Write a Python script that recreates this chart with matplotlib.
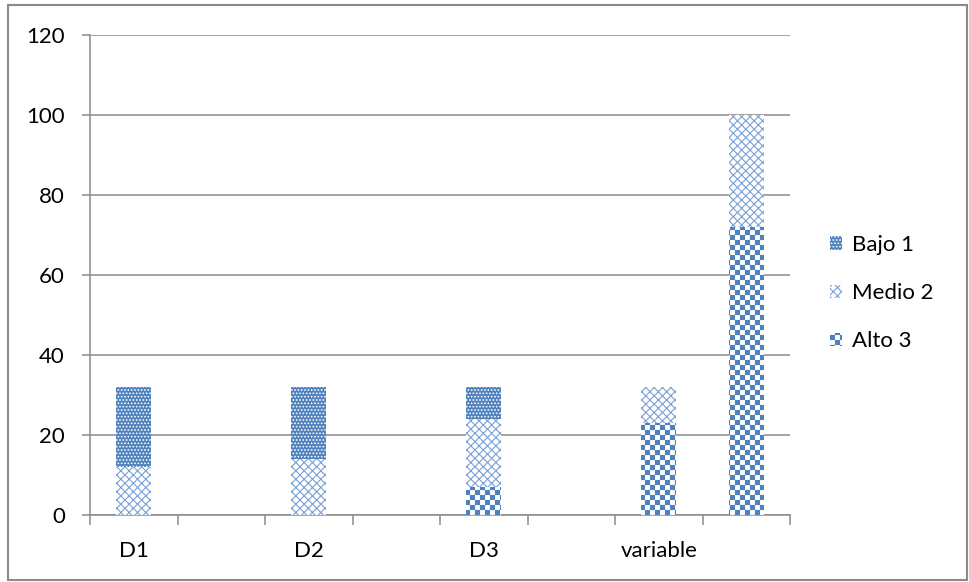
import numpy as np
import matplotlib
matplotlib.use("Agg")
import matplotlib.pyplot as plt
import matplotlib.hatch as mhatch
from matplotlib.path import Path
from matplotlib.patches import Rectangle

# Data
categories = ["D1", "", "D2", "", "D3", "", "variable", ""]
alto_3 = [0, 0, 0, 0, 7, 0, 23, 72]
medio_2 = [12, 0, 14, 0, 17, 0, 9, 28]
bajo_1 = [20, 0, 18, 0, 8, 0, 0, 0]
y_ticks = [0, 20, 40, 60, 80, 100, 120]


class CheckerHatch(mhatch.HatchPatternBase):
    """Checkerboard fill, selected with the '*' hatch character."""

    inset = 0.005

    def __init__(self, hatch, density):
        self.cells = hatch.count('*') * 5
        if self.cells % 2:
            self.cells += 1
        self.num_vertices = (self.cells * self.cells // 2) * 5

    def set_vertices_and_codes(self, vertices, codes):
        n = self.cells
        step = 1.0 / n
        d = self.inset
        k = 0
        for i in range(n):
            for j in range(n):
                if (i + j) % 2 == 0:
                    x0, y0 = i * step + d, j * step + d
                    x1, y1 = (i + 1) * step - d, (j + 1) * step - d
                    vertices[k:k + 5] = [(x0, y0), (x1, y0), (x1, y1),
                                         (x0, y1), (x0, y0)]
                    codes[k:k + 5] = [Path.MOVETO, Path.LINETO, Path.LINETO,
                                      Path.LINETO, Path.CLOSEPOLY]
                    k += 5


mhatch._hatch_types[-1] = CheckerHatch

plt.rcParams['font.family'] = ['Lato', 'DejaVu Sans']
plt.rcParams['hatch.linewidth'] = 0.8

BLUE = '#4F81BD'
LIGHT = '#7AA0D4'
GREY = '#8A8A8A'
FS = 16

fig = plt.figure(figsize=(9.69, 5.82), dpi=100)
ax = fig.add_axes([90 / 969, 67 / 582, 700 / 969, 480 / 582])

x = np.arange(len(categories))
w = 0.4
alto = np.array(alto_3, dtype=float)
medio = np.array(medio_2, dtype=float)
bajo = np.array(bajo_1, dtype=float)

b_alto = ax.bar(x, alto, w, color='white', edgecolor=BLUE, hatch='****',
                linewidth=0, label='Alto 3', zorder=3)
b_medio = ax.bar(x, medio, w, bottom=alto, color='white', edgecolor=LIGHT,
                 hatch='xxxx', linewidth=0, label='Medio 2', zorder=3)
b_bajo = ax.bar(x, bajo, w, bottom=alto + medio, color=BLUE, edgecolor='white',
                hatch='.....', linewidth=0, label='Bajo 1', zorder=3)

ax.set_xlim(-0.5, len(categories) - 0.5)
ax.set_ylim(0, 120)
ax.set_yticks(y_ticks)
ax.yaxis.grid(True, color=GREY, linewidth=1.1, zorder=0)
ax.set_axisbelow(True)

# category boundaries carry the tick marks, centres carry the labels
ax.set_xticks(np.arange(len(categories) + 1) - 0.5)
ax.set_xticklabels([])
ax.set_xticks(x, minor=True)
ax.set_xticklabels(categories, minor=True)
ax.tick_params(axis='x', which='major', length=7, color=GREY, width=1.1)
ax.tick_params(axis='x', which='minor', length=0, pad=19, labelsize=FS)
ax.tick_params(axis='y', length=6, color=GREY, width=1.1, labelsize=FS,
               pad=12)

for side in ('top', 'right'):
    ax.spines[side].set_visible(False)
for side in ('left', 'bottom'):
    ax.spines[side].set_color(GREY)
    ax.spines[side].set_linewidth(1.1)

ax.legend(handles=[b_bajo, b_medio, b_alto], labels=['Bajo 1', 'Medio 2', 'Alto 3'],
          loc='center left', bbox_to_anchor=(1.057, 0.4625), frameon=False,
          fontsize=FS, handlelength=0.54, handleheight=0.54, handletextpad=0.45,
          labelspacing=1.27, borderpad=0, borderaxespad=0)

fig.patches.append(Rectangle((8 / 969, 2 / 582), 959 / 969, 575 / 582,
                             transform=fig.transFigure, fill=False,
                             edgecolor=GREY, linewidth=1.5))

fig.savefig('out.png', dpi=100)
